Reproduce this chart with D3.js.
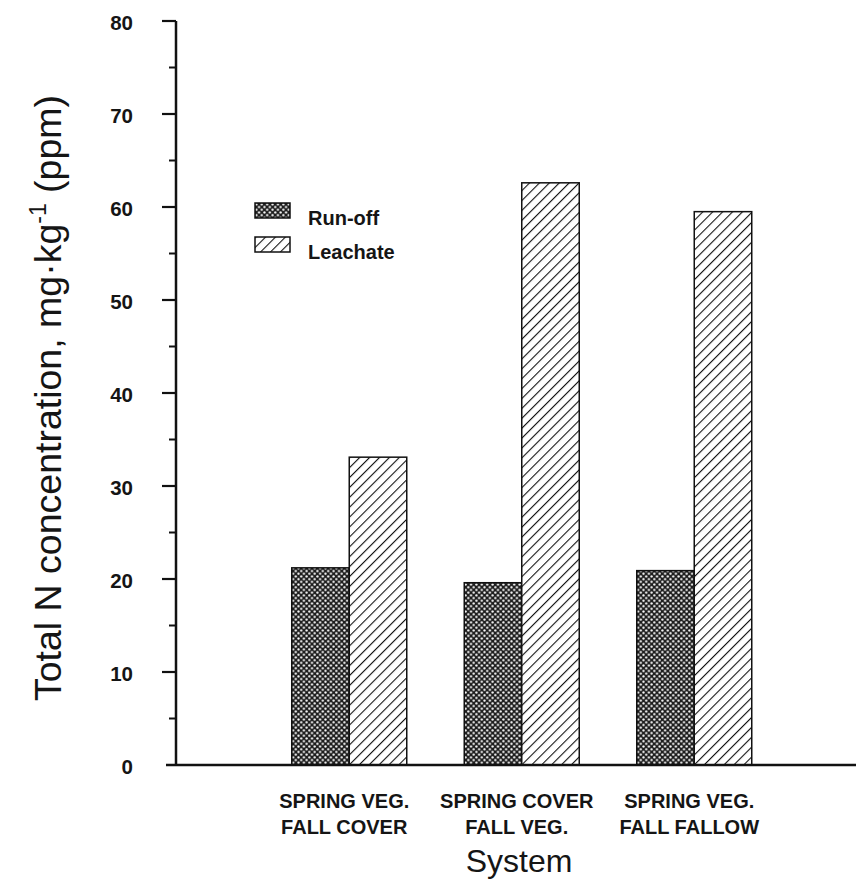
<!DOCTYPE html>
<html>
<head>
<meta charset="utf-8">
<script src="https://cdn.jsdelivr.net/npm/d3@7/dist/d3.min.js"></script>
<style>
  body { margin: 0; background: #fff; }
  text { font-family: "Liberation Sans", Arial, sans-serif; fill: #151515; }
</style>
</head>
<body>
<div id="chart"></div>
<script>
// data
var systems = ['SPRING VEG.|FALL COVER', 'SPRING COVER|FALL VEG.', 'SPRING VEG.|FALL FALLOW'];
var seriesNames = ['Run-off', 'Leachate'];
var runoff = [21.2, 19.6, 20.9];
var leachate = [33.1, 62.6, 59.5];
var yTicks = [0, 10, 20, 30, 40, 50, 60, 70, 80];

var W = 856, H = 890;
var svg = d3.select('#chart').append('svg')
	.attr('width', W)
	.attr('height', H);

//------------------------------------------------------------------------------
// patterns
var defs = svg.append('defs');

var pDot = defs.append('pattern')
	.attr('id', 'pat-runoff')
	.attr('patternUnits', 'userSpaceOnUse')
	.attr('width', 5.4).attr('height', 5.4);
pDot.append('rect').attr('width', 5.4).attr('height', 5.4).attr('fill', '#1e1e1e');
pDot.append('circle').attr('cx', 1.35).attr('cy', 1.35).attr('r', 1.15).attr('fill', '#fff');
pDot.append('circle').attr('cx', 4.05).attr('cy', 4.05).attr('r', 1.15).attr('fill', '#fff');

var pLine = defs.append('pattern')
	.attr('id', 'pat-leach')
	.attr('patternUnits', 'userSpaceOnUse')
	.attr('width', 7).attr('height', 7)
	.attr('patternTransform', 'rotate(45)');
pLine.append('rect').attr('width', 7).attr('height', 7).attr('fill', '#fff');
pLine.append('line')
	.attr('x1', 0).attr('y1', 0).attr('x2', 0).attr('y2', 7)
	.attr('stroke', '#111').attr('stroke-width', 2.2);

var fills = ['url(#pat-runoff)', 'url(#pat-leach)'];

//------------------------------------------------------------------------------
// scales
var axisX = 176, baseY = 765;
var y = d3.scaleLinear().domain([0, 80]).range([baseY, 21]);
var x0 = d3.scaleBand().domain(systems).range([263, 780.5])
	.paddingInner(1 / 3).paddingOuter(1 / 6);
var x1 = d3.scaleBand().domain(seriesNames).range([0, x0.bandwidth()]);

var rows = systems.map(function(s, i) {
	return { s: s, vals: [runoff[i], leachate[i]] };
});

//------------------------------------------------------------------------------
// bars
var groups = svg.selectAll('.grp')
	.data(rows)
	.enter().append('g')
	.attr('class', 'grp')
	.attr('transform', function(d) { return 'translate(' + x0(d.s) + ',0)'; });

groups.selectAll('rect')
	.data(function(d) { return d.vals.map(function(v, i) { return { k: seriesNames[i], v: v, i: i }; }); })
	.enter().append('rect')
	.attr('x', function(d) { return x1(d.k); })
	.attr('y', function(d) { return y(d.v); })
	.attr('width', x1.bandwidth())
	.attr('height', function(d) { return baseY - y(d.v); })
	.attr('fill', function(d) { return fills[d.i]; })
	.attr('stroke', '#111')
	.attr('stroke-width', 1.5);

//------------------------------------------------------------------------------
// axes
var axis = svg.append('g').attr('stroke', '#111').attr('fill', 'none');
axis.append('line')
	.attr('x1', axisX).attr('y1', y(80)).attr('x2', axisX).attr('y2', baseY)
	.attr('stroke-width', 2.5);
axis.append('line')
	.attr('x1', 166).attr('y1', baseY).attr('x2', W).attr('y2', baseY)
	.attr('stroke-width', 2.5);

axis.selectAll('.maj')
	.data(yTicks.filter(function(t) { return t > 0; }))
	.enter().append('line')
	.attr('x1', 162).attr('x2', axisX)
	.attr('y1', function(d) { return y(d); })
	.attr('y2', function(d) { return y(d); })
	.attr('stroke-width', 2.2);

axis.selectAll('.minor')
	.data(d3.range(5, 80, 10))
	.enter().append('line')
	.attr('x1', 169).attr('x2', axisX)
	.attr('y1', function(d) { return y(d); })
	.attr('y2', function(d) { return y(d); })
	.attr('stroke-width', 2);

svg.selectAll('.ytl')
	.data(yTicks)
	.enter().append('text')
	.attr('x', 133)
	.attr('y', function(d) { return y(d) + 9; })
	.attr('text-anchor', 'end')
	.style('font-size', '20.5px')
	.style('font-weight', 'bold')
	.text(function(d) { return d; });

// x category labels (sit slightly left of the bar pair in the figure)
var xl = svg.selectAll('.xtl')
	.data(systems)
	.enter().append('text')
	.attr('text-anchor', 'middle')
	.style('font-size', '20px')
	.style('font-weight', 'bold');
xl.append('tspan')
	.attr('x', function(d) { return x0(d) + x0.bandwidth() / 2 - 5; })
	.attr('y', 808)
	.text(function(d) { return d.split('|')[0]; });
xl.append('tspan')
	.attr('x', function(d) { return x0(d) + x0.bandwidth() / 2 - 5; })
	.attr('y', 834)
	.text(function(d) { return d.split('|')[1]; });

svg.append('text')
	.attr('x', 519).attr('y', 872)
	.attr('text-anchor', 'middle')
	.style('font-size', '32px')
	.text('System');

var yt = svg.append('text')
	.attr('transform', 'translate(61,' + 398 + ') rotate(-90)')
	.attr('text-anchor', 'middle')
	.style('font-size', '37.5px');
yt.append('tspan').text('Total N concentration, mg\u00b7kg');
yt.append('tspan').attr('dy', -15).style('font-size', '23px').text('-1');
yt.append('tspan').attr('dy', 15).text(' (ppm)');

//------------------------------------------------------------------------------
// legend
var leg = svg.selectAll('.leg')
	.data(seriesNames)
	.enter().append('g')
	.attr('transform', function(d, i) { return 'translate(255,' + (203 + i * 34) + ')'; });
leg.append('rect')
	.attr('width', 35).attr('height', 15)
	.attr('fill', function(d, i) { return fills[i]; })
	.attr('stroke', '#111').attr('stroke-width', 1.5);
leg.append('text')
	.attr('x', 53).attr('y', 22)
	.style('font-size', '20px')
	.style('font-weight', 'bold')
	.text(function(d) { return d; });
</script>
</body>
</html>
